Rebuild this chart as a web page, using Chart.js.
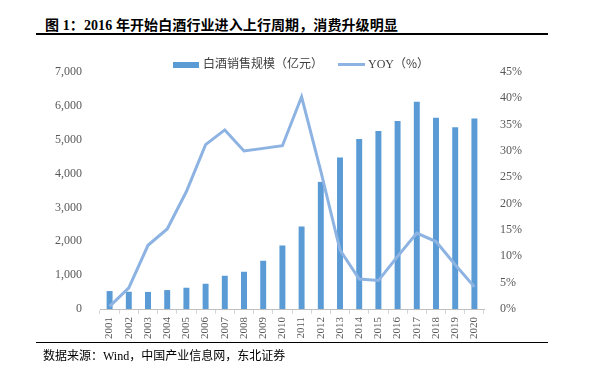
<!DOCTYPE html>
<html>
<head>
<meta charset="utf-8">
<script src="https://cdn.jsdelivr.net/npm/chart.js@4/dist/chart.umd.min.js"></script>
<style>
  html, body { margin: 0; padding: 0; background: #fff; }
  #wrap { position: relative; width: 592px; height: 371px; overflow: hidden; }
  #chart { position: absolute; left: 0; top: 0; }
  .title { position: absolute; left: 45px; top: 14px; font: bold 14px "Liberation Serif", "Noto Sans CJK SC", serif; letter-spacing: 0.1px; color: #000; white-space: nowrap; }
  .rule { position: absolute; left: 36px; width: 512px; height: 2px; background: #000; }
  .source { position: absolute; left: 43px; top: 346px; font: 12px "Liberation Serif", "Noto Sans CJK SC", serif; color: #000; white-space: nowrap; }
  .legend { position: absolute; top: 54px; font: 12px "Noto Sans CJK SC", sans-serif; color: #404040; white-space: nowrap; }
  .legend span.box { display: inline-block; vertical-align: middle; }
</style>
</head>
<body>
<div id="wrap">
  <div class="title">图 1：2016 年开始白酒行业进入上行周期，消费升级明显</div>
  <div class="rule" style="top:33px"></div>
  <canvas id="chart" width="592" height="371"></canvas>
  <div class="legend" style="left:173px"><span class="box" style="width:26px;height:6px;background:#5b9bd5;margin-right:4px"></span>白酒销售规模（亿元）</div>
  <div class="legend" style="left:338px"><span class="box" style="width:27px;height:3px;background:#8db3e2;margin-right:3px"></span><span style="font-family:'Liberation Serif',serif">YOY</span>（%）</div>
  <div class="rule" style="top:342px;height:1px"></div>
  <div class="source">数据来源：Wind，中国产业信息网，东北证券</div>
</div>
<script>
// 2001-2020 白酒销售规模与同比
const years = ['2001','2002','2003','2004','2005','2006','2007','2008','2009','2010',
               '2011','2012','2013','2014','2015','2016','2017','2018','2019','2020'];
const sales = [530, 510, 505, 560, 628, 746, 982, 1100, 1425, 1876,
               2437, 3755, 4472, 5024, 5260, 5555, 6125, 5652, 5369, 5623];
const yoy = [0.5, 4.0, 12.1, 15.2, 22.3, 31.2, 34.0, 30.0, 30.5, 31.0,
             40.3, 26.2, 11.2, 5.7, 5.4, 10.0, 14.4, 12.8, 8.4, 4.2];

const tickFont = { family: 'Liberation Serif', size: 12 };

new Chart(document.getElementById('chart'), {
  type: 'bar',
  data: {
    labels: years,
    datasets: [
      {
        type: 'line',
        label: 'YOY（%）',
        data: yoy,
        yAxisID: 'y1',
        borderColor: '#8db3e2',
        borderWidth: 3,
        pointRadius: 0,
        tension: 0,
        order: 0
      },
      {
        label: '白酒销售规模（亿元）',
        data: sales,
        yAxisID: 'y',
        backgroundColor: '#5b9bd5',
        barPercentage: 0.31,
        categoryPercentage: 1,
        order: 1
      }
    ]
  },
  options: {
    responsive: false,
    animation: false,
    layout: { padding: { top: 72, left: 0, right: 0, bottom: 0 } },
    plugins: { legend: { display: false }, tooltip: { enabled: false } },
    scales: {
      x: {
        offset: true,
        grid: { display: true, drawOnChartArea: false, offset: true, tickLength: 5, color: '#d9d9d9' },
        border: { color: '#bfbfbf' },
        ticks: { minRotation: 90, maxRotation: 90, autoSkip: false, color: '#595959',
                 font: { family: 'Liberation Serif', size: 11 }, padding: 3 },
        afterFit: s => { s.height = 62; }
      },
      y: {
        position: 'left',
        min: 0, max: 7000,
        ticks: { stepSize: 1000, color: '#595959', font: tickFont, padding: 10,
                 callback: v => v.toLocaleString('en-US') },
        grid: { display: false },
        border: { display: false },
        afterFit: s => { s.width = 100; }
      },
      y1: {
        position: 'right',
        min: 0, max: 45,
        ticks: { stepSize: 5, color: '#595959', font: tickFont, padding: 8,
                 callback: v => v + '%' },
        grid: { display: false },
        border: { display: false },
        afterFit: s => { s.width = 108; }
      }
    }
  }
});
</script>
</body>
</html>
